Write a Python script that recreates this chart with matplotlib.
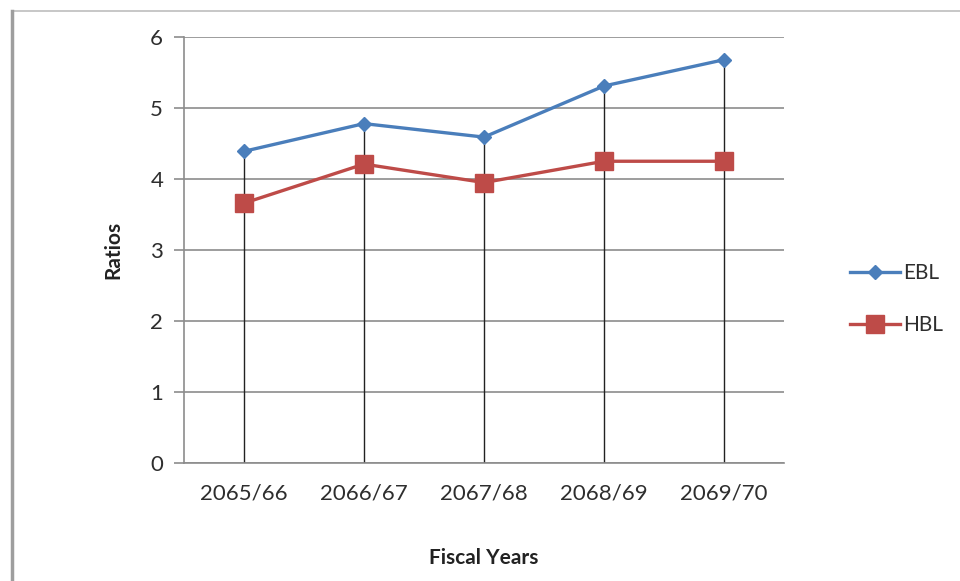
import matplotlib.pyplot as plt
from matplotlib.lines import Line2D

plt.rcParams['font.family'] = ['Lato', 'DejaVu Sans']

years = ['2065/66', '2066/67', '2067/68', '2068/69', '2069/70']
ebl = [4.39, 4.78, 4.59, 5.31, 5.68]
hbl = [3.66, 4.21, 3.95, 4.25, 4.25]

blue = '#4A7EBB'
red = '#BE4B48'
grid_c = '#8C8C8C'

fig = plt.figure(figsize=(9.6, 5.81), dpi=100)
ax = fig.add_axes([184 / 960, 118 / 581, 600 / 960, 426 / 581])

x = list(range(len(years)))

# drop lines from the top series down to the axis
tops = [max(a, b) for a, b in zip(ebl, hbl)]
ax.vlines(x, 0, tops, color='#222222', lw=1.0, zorder=2)

ax.plot(x, ebl, color=blue, lw=2.4, marker='D', ms=7.5, label='EBL', zorder=4)
ax.plot(x, hbl, color=red, lw=2.4, marker='s', ms=13, label='HBL', zorder=3)

ax.set_xlim(-0.5, 4.5)
ax.set_ylim(0, 6)
ax.set_yticks(range(0, 7))
ax.set_xticks(x)
ax.set_xticklabels(years)
ax.yaxis.grid(True, color=grid_c, lw=1.2)
ax.set_axisbelow(True)

for s in ['top', 'right']:
    ax.spines[s].set_visible(False)
ax.spines['left'].set_color(grid_c)
ax.spines['bottom'].set_color(grid_c)
ax.spines['left'].set_linewidth(1.2)
ax.spines['bottom'].set_linewidth(1.2)

ax.tick_params(axis='y', length=7, color=grid_c, width=1.2, labelsize=16,
               labelcolor='#2E2E2E', pad=8)
ax.tick_params(axis='x', length=0, labelsize=16, labelcolor='#2E2E2E', pad=15)

ax.set_ylabel('Ratios', fontsize=15, fontweight='bold', color='#222222', labelpad=19)
ax.set_xlabel('Fiscal Years', fontsize=15, fontweight='bold', color='#222222', labelpad=32)

ax.legend(loc='center left', bbox_to_anchor=(1.078, 0.385), frameon=False,
          fontsize=15, handlelength=2.4, labelspacing=1.55, handletextpad=0.15,
          labelcolor='#2E2E2E')

# outer frame lines along the top and left edges
fig.add_artist(Line2D([12 / 960, 1], [1 - 11 / 581, 1 - 11 / 581],
                      color='#BDBDBD', lw=1.2, transform=fig.transFigure))
fig.add_artist(Line2D([12 / 960, 12 / 960], [0, 1 - 11 / 581],
                      color='#9E9E9E', lw=2.5, transform=fig.transFigure))

fig.savefig('out.png', dpi=100, facecolor='white')
